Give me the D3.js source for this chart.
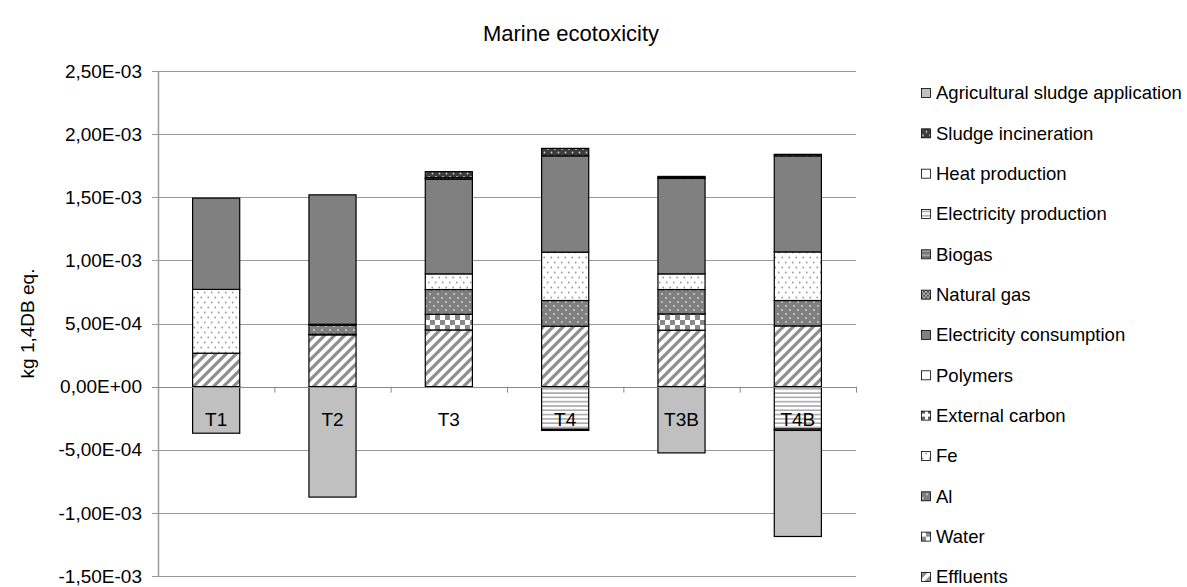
<!DOCTYPE html>
<html>
<head>
<meta charset="utf-8">
<script src="https://cdn.jsdelivr.net/npm/d3@7"></script>
<style>
  body { margin: 0; background: #fff; }
  svg { display: block; font-family: 'Liberation Sans', Arial, sans-serif; }
</style>
</head>
<body>
<div id="chart"></div>
<script>
// --- data (kg 1,4DB eq.) ---
const categories = ['T1', 'T2', 'T3', 'T4', 'T3B', 'T4B']

// series listed in stacking order (bottom -> top), legend shows them reversed
const seriesNames = [
  'Effluents', 'Water', 'Al', 'Fe', 'External carbon', 'Polymers',
  'Electricity consumption', 'Natural gas', 'Biogas', 'Electricity production',
  'Heat production', 'Sludge incineration', 'Agricultural sludge application'
]

const effluents              = [2.65e-4, 4.10e-4, 4.49e-4, 4.79e-4, 4.47e-4, 4.81e-4]
const water                  = [0, 5e-6, 1.24e-4, 0, 1.29e-4, 0]
const al                     = [0, 7.1e-5, 1.96e-4, 2.03e-4, 1.93e-4, 2.01e-4]
const fe                     = [5.05e-4, 0, 1.24e-4, 3.83e-4, 1.24e-4, 3.85e-4]
const externalCarbon         = [0, 0, 0, 0, 0, 0]
const polymers               = [0, 8e-6, 0, 0, 0, 0]
const electricityConsumption = [7.23e-4, 1.025e-3, 7.50e-4, 7.63e-4, 7.56e-4, 7.61e-4]
const naturalGas             = [0, 0, 1.2e-5, 0, 6e-6, 0]
const biogas                 = [0, 0, 0, 0, 0, 0]
const electricityProduction  = [0, 0, 0, -3.38e-4, 0, -3.36e-4]
const heatProduction         = [0, 0, 0, -9e-6, 0, -1.1e-5]
const sludgeIncineration     = [0, 0, 4.8e-5, 5.9e-5, 1.0e-5, 1.2e-5]
const agriculturalSludge     = [-3.69e-4, -8.75e-4, 0, 0, -5.25e-4, -8.40e-4]

const seriesValues = [
  effluents, water, al, fe, externalCarbon, polymers, electricityConsumption,
  naturalGas, biogas, electricityProduction, heatProduction, sludgeIncineration,
  agriculturalSludge
]

const yTicks = [-1.5e-3, -1e-3, -5e-4, 0, 5e-4, 1e-3, 1.5e-3, 2e-3, 2.5e-3]

// fill id per series
const fills = ['p-diag', 'p-check', 'p-al', 'p-fe', 'p-carbon', 'p-white',
  'p-elec', 'p-gas', 'p-biogas', 'p-hstripe', 'p-white', 'p-incin', 'p-agri']

// --- layout ---
const width = 1187
const height = 587
const plot = { left: 158, right: 856, top: 71, bottom: 576 }

const svg = d3.select('#chart').append('svg')
  .attr('width', width)
  .attr('height', height)

// --- patterns ---
const defs = svg.append('defs')

function pattern(id, w, h) {
  return defs.append('pattern')
    .attr('id', id)
    .attr('patternUnits', 'userSpaceOnUse')
    .attr('width', w)
    .attr('height', h)
}

let p = pattern('p-diag', 10, 10)
p.append('rect').attr('width', 10).attr('height', 10).attr('fill', '#fff')
p.append('path')
  .attr('d', 'M0,10 L10,0 M-3,3 L3,-3 M7,13 L13,7')
  .attr('stroke', '#8e8e8e').attr('stroke-width', 3.2)

p = pattern('p-check', 10, 10)
p.append('rect').attr('width', 10).attr('height', 10).attr('fill', '#fff')
p.append('rect').attr('width', 5).attr('height', 5).attr('fill', '#8a8a8a')
p.append('rect').attr('x', 5).attr('y', 5).attr('width', 5).attr('height', 5).attr('fill', '#8a8a8a')

p = pattern('p-al', 8, 8)
p.append('rect').attr('width', 8).attr('height', 8).attr('fill', '#7f7f7f')
p.append('circle').attr('cx', 2).attr('cy', 2).attr('r', 0.9).attr('fill', '#d8d8d8')
p.append('circle').attr('cx', 6).attr('cy', 6).attr('r', 0.9).attr('fill', '#d8d8d8')

p = pattern('p-fe', 7, 10)
p.append('rect').attr('width', 7).attr('height', 10).attr('fill', '#fff')
p.append('circle').attr('cx', 1.75).attr('cy', 2.5).attr('r', 0.9).attr('fill', '#9a9a9a')
p.append('circle').attr('cx', 5.25).attr('cy', 7.5).attr('r', 0.9).attr('fill', '#9a9a9a')

p = pattern('p-carbon', 6, 6)
p.append('rect').attr('width', 6).attr('height', 6).attr('fill', '#fff')
p.append('rect').attr('x', 1).attr('y', 1).attr('width', 3).attr('height', 3).attr('fill', '#606060')

p = pattern('p-white', 4, 4)
p.append('rect').attr('width', 4).attr('height', 4).attr('fill', '#fff')

p = pattern('p-elec', 4, 4)
p.append('rect').attr('width', 4).attr('height', 4).attr('fill', '#808080')

p = pattern('p-gas', 4, 4)
p.append('rect').attr('width', 4).attr('height', 4).attr('fill', '#5a5a5a')
p.append('rect').attr('width', 2).attr('height', 2).attr('fill', '#b0b0b0')
p.append('rect').attr('x', 2).attr('y', 2).attr('width', 2).attr('height', 2).attr('fill', '#b0b0b0')

p = pattern('p-biogas', 4, 4)
p.append('rect').attr('width', 4).attr('height', 4).attr('fill', '#a0a0a0')
p.append('rect').attr('y', 2).attr('width', 4).attr('height', 1.5).attr('fill', '#606060')

p = pattern('p-hstripe', 4, 4.3)
p.append('rect').attr('width', 4).attr('height', 4.3).attr('fill', '#fff')
p.append('rect').attr('y', 1).attr('width', 4).attr('height', 1.6).attr('fill', '#a8a8a8')

p = pattern('p-incin', 7, 7)
p.append('rect').attr('width', 7).attr('height', 7).attr('fill', '#3c3c3c')
p.append('circle').attr('cx', 2).attr('cy', 2).attr('r', 0.9).attr('fill', '#cfcfcf')
p.append('circle').attr('cx', 5.5).attr('cy', 5.5).attr('r', 0.9).attr('fill', '#cfcfcf')

p = pattern('p-agri', 4, 4)
p.append('rect').attr('width', 4).attr('height', 4).attr('fill', '#c0c0c0')

// --- scales ---
const y = d3.scaleLinear()
  .domain([-1.5e-3, 2.5e-3])
  .range([plot.bottom, plot.top])

const x = d3.scaleBand()
  .domain(categories)
  .range([plot.left, plot.right])
  .padding(0)

const barWidth = x.bandwidth() * 0.405

// --- gridlines ---
svg.append('g')
  .selectAll('line')
  .data(yTicks)
  .join('line')
    .attr('x1', plot.left - 6)
    .attr('x2', plot.right)
    .attr('y1', d => Math.round(y(d)) + 0.5)
    .attr('y2', d => Math.round(y(d)) + 0.5)
    .attr('stroke', '#9a9a9a')
    .attr('stroke-width', 1)

// y axis line
svg.append('line')
  .attr('x1', plot.left + 0.5).attr('x2', plot.left + 0.5)
  .attr('y1', plot.top).attr('y2', plot.bottom + 1)
  .attr('stroke', '#9a9a9a')
  .attr('stroke-width', 1.5)

// y tick labels, e.g. 2,50E-03
const fmt = function(d) {
  const parts = d.toExponential(2).split('e')
  const exp = +parts[1]
  return parts[0].replace('.', ',') + 'E' + (exp < 0 ? '-' : '+') + String(Math.abs(exp)).padStart(2, '0')
}

svg.append('g')
  .selectAll('text')
  .data(yTicks)
  .join('text')
    .attr('x', plot.left - 16)
    .attr('y', d => y(d))
    .attr('dy', '0.35em')
    .attr('text-anchor', 'end')
    .attr('font-size', 19)
    .attr('fill', '#000')
    .text(fmt)

// --- bars ---
const table = categories.map((c, i) => {
  const row = { category: c }
  seriesNames.forEach((s, j) => { row[s] = seriesValues[j][i] })
  return row
})

const stacked = d3.stack()
  .keys(seriesNames)
  .offset(d3.stackOffsetDiverging)(table)

const gBars = svg.append('g')
stacked.forEach((layer, j) => {
  gBars.append('g')
    .selectAll('rect')
    .data(layer.filter(d => d[1] !== d[0]))
    .join('rect')
      .attr('x', d => x(d.data.category) + (x.bandwidth() - barWidth) / 2)
      .attr('y', d => y(Math.max(d[0], d[1])))
      .attr('width', barWidth)
      .attr('height', d => Math.abs(y(d[0]) - y(d[1])))
      .attr('fill', 'url(#' + fills[j] + ')')
      .attr('stroke', '#000')
      .attr('stroke-width', 1.2)
})

// zero line and category ticks
svg.append('line')
  .attr('x1', plot.left - 6).attr('x2', plot.right)
  .attr('y1', Math.round(y(0)) + 0.5).attr('y2', Math.round(y(0)) + 0.5)
  .attr('stroke', '#8a8a8a')
  .attr('stroke-width', 1.2)

svg.append('g')
  .selectAll('line')
  .data(categories)
  .join('line')
    .attr('x1', (d, i) => plot.left + (i + 1) * x.step() + 0.5)
    .attr('x2', (d, i) => plot.left + (i + 1) * x.step() + 0.5)
    .attr('y1', y(0))
    .attr('y2', y(0) + 6)
    .attr('stroke', '#8a8a8a')

// category labels
svg.append('g')
  .selectAll('text')
  .data(categories)
  .join('text')
    .attr('x', d => x(d) + x.bandwidth() / 2)
    .attr('y', y(0) + 39)
    .attr('text-anchor', 'middle')
    .attr('font-size', 19)
    .text(d => d)

// --- titles ---
svg.append('text')
  .attr('x', 571)
  .attr('y', 41)
  .attr('text-anchor', 'middle')
  .attr('font-size', 22)
  .text('Marine ecotoxicity')

svg.append('text')
  .attr('transform', 'translate(34,' + ((plot.top + plot.bottom) / 2) + ') rotate(-90)')
  .attr('text-anchor', 'middle')
  .attr('font-size', 19)
  .text('kg 1,4DB eq.')

// --- legend ---
const legendItems = seriesNames.map((s, j) => ({ name: s, fill: fills[j] })).reverse()

const legend = svg.append('g')
  .selectAll('g')
  .data(legendItems)
  .join('g')
    .attr('transform', (d, i) => 'translate(921,' + (93 + i * 40.33) + ')')

legend.append('rect')
  .attr('x', 0.5)
  .attr('y', -4.5)
  .attr('width', 9)
  .attr('height', 9)
  .attr('fill', d => 'url(#' + d.fill + ')')
  .attr('stroke', '#000')
  .attr('stroke-width', 0.8)

legend.append('text')
  .attr('x', 15)
  .attr('dy', '0.35em')
  .attr('font-size', 18.5)
  .text(d => d.name)
</script>
</body>
</html>
